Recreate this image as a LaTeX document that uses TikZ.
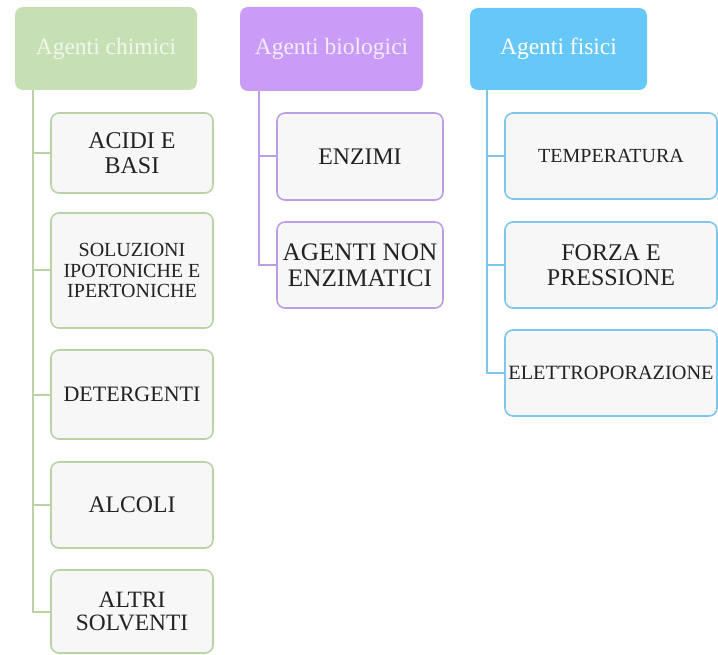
\documentclass[tikz,border=0pt]{standalone}
\usepackage{fontspec}
\setmainfont{Liberation Serif}
\definecolor{gfill}{HTML}{C6E0B4}
\definecolor{pfill}{HTML}{CA9CF8}
\definecolor{bfill}{HTML}{66C8F8}
\definecolor{gline}{HTML}{B9D3A6}
\definecolor{pline}{HTML}{BC9EE8}
\definecolor{bline}{HTML}{7EC6EE}
\definecolor{cfill}{HTML}{F7F7F7}
\definecolor{ctext}{HTML}{222222}
\newcommand{\fsz}[2]{\fontsize{#1}{#2}\selectfont}
\begin{document}
\begin{tikzpicture}[x=1pt,y=-1pt,
  head/.style={draw=none, rounded corners=8pt, align=center, inner sep=0pt, font=\fsz{23.5}{24}},
  child/.style={rounded corners=8pt, fill=cfill, line width=1.6pt, align=center, inner sep=0pt, text=ctext},
  gchild/.style={child, draw=gline, minimum width=162pt},
  pchild/.style={child, draw=pline, minimum width=166pt},
  bchild/.style={child, draw=bline, minimum width=212pt},
  trunk/.style={line width=2pt}]
\useasboundingbox (0,0) rectangle (718,655);
\fill[white] (0,0) rectangle (718,655);
% headers
\node[head, fill=gfill, text=white!75!gfill, minimum width=182pt, minimum height=83pt] (gh) at (106,48.5) {Agenti chimici};
\node[head, fill=pfill, text=white!80!pfill, minimum width=183pt, minimum height=84pt] (ph) at (331.5,49) {Agenti biologici};
\node[head, fill=bfill, text=white, minimum width=177pt, minimum height=82pt] (bh) at (558.5,49) {Agenti fisici};
% green children
\node[gchild, minimum height=80pt, font=\fsz{24}{24.5}] (g1) at (132,153) {ACIDI E\\BASI};
\node[gchild, minimum height=115pt, font=\fsz{20}{20.4}] (g2) at (132,270.5) {SOLUZIONI\\IPOTONICHE E\\IPERTONICHE};
\node[gchild, minimum height=89pt, font=\fsz{22}{22.4}] (g3) at (132,394.5) {DETERGENTI};
\node[gchild, minimum height=86pt, font=\fsz{23.7}{24}] (g4) at (132,505) {ALCOLI};
\node[gchild, minimum height=83pt, font=\fsz{23.4}{23.9}] (g5) at (132,611.5) {ALTRI\\SOLVENTI};
% purple children
\node[pchild, minimum height=87pt, font=\fsz{23.8}{24.3}] (p1) at (360,156.5) {ENZIMI};
\node[pchild, minimum height=86pt, font=\fsz{25.2}{25.8}] (p2) at (360,265) {AGENTI NON\\ENZIMATICI};
% blue children
\node[bchild, minimum height=86pt, font=\fsz{20}{20.4}] (b1) at (611,156) {TEMPERATURA};
\node[bchild, minimum height=86pt, font=\fsz{24}{24.5}] (b2) at (611,265) {FORZA E\\PRESSIONE};
\node[bchild, minimum height=86pt, font=\fsz{20.3}{20.7}] (b3) at (611,373) {ELETTROPORAZIONE};
% trunks
\coordinate (gt) at (33,90);
\coordinate (pt) at (259,91);
\coordinate (bt) at (487,90);
\draw[trunk, draw=gline] (gt) |- (g5.west);
\foreach \n in {g1,g2,g3,g4} \draw[trunk, draw=gline] (\n.west) -- (\n.west -| gt);
\draw[trunk, draw=pline] (pt) |- (p2.west);
\draw[trunk, draw=pline] (p1.west) -- (p1.west -| pt);
\draw[trunk, draw=bline] (bt) |- (b3.west);
\foreach \n in {b1,b2} \draw[trunk, draw=bline] (\n.west) -- (\n.west -| bt);
\end{tikzpicture}
\end{document}
